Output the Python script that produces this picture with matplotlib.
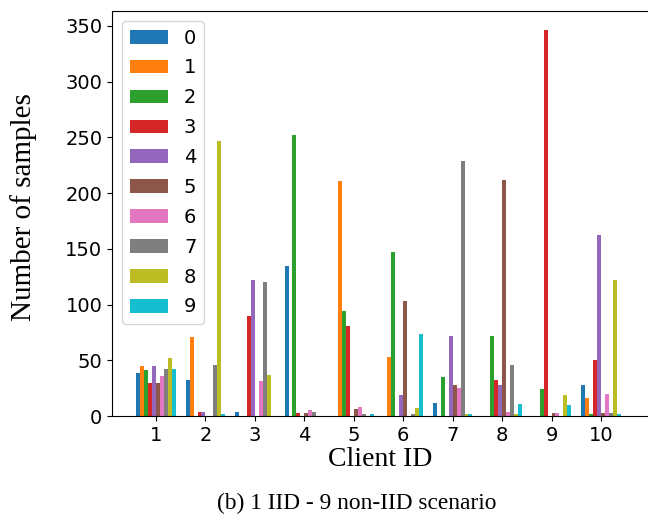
import numpy as np
from matplotlib import pyplot as plt

# samples per label (0-9) for each client (1-10)
clients = [1, 2, 3, 4, 5, 6, 7, 8, 9, 10]
labels = ["0", "1", "2", "3", "4", "5", "6", "7", "8", "9"]
counts = [
    [39, 45, 41, 30, 45, 30, 36, 42, 52, 42],
    [32, 71, 0, 4, 4, 0, 0, 46, 247, 2],
    [4, 0, 0, 90, 122, 0, 31, 120, 37, 0],
    [135, 0, 252, 3, 0, 3, 5, 4, 0, 0],
    [0, 211, 94, 81, 0, 6, 8, 2, 0, 2],
    [0, 53, 147, 0, 19, 103, 0, 2, 7, 74],
    [12, 0, 35, 0, 72, 28, 25, 229, 2, 2],
    [0, 0, 72, 32, 28, 212, 4, 46, 2, 11],
    [0, 0, 24, 346, 0, 3, 3, 0, 19, 10],
    [28, 16, 2, 50, 162, 3, 20, 3, 122, 2],
]

data = np.array(counts)
x = np.array(clients)
width = 0.08

fig = plt.figure(figsize=(6.48, 5.14), dpi=100)
# right edge of the axes runs off the figure, as in the original crop
ax = fig.add_axes([112 / 648, 98 / 514, 545 / 648, 405 / 514])

for j, lab in enumerate(labels):
    ax.bar(x + (j - 4.5) * width, data[:, j], width, label=lab)

ax.spines["right"].set_visible(False)
ax.set_xlim(0.11, 0.11 + 545 / 49.44)
ax.set_xticks(x)
ax.tick_params(labelsize=14)
ax.set_xlabel("Client ID", fontsize=20, family="Liberation Serif", labelpad=2)
ax.xaxis.label.set_x(0.492)
ax.set_ylabel("Number of samples", fontsize=21, family="Liberation Serif", labelpad=20)
ax.yaxis.label.set_y(0.517)
ax.legend(loc="upper left", fontsize=14, labelspacing=0.56)

fig.text(0.551, 0.021, "(b) 1 IID - 9 non-IID scenario", ha="center", va="center",
         fontsize=16.8, family="Liberation Serif")

fig.savefig("out.png", dpi=100)
